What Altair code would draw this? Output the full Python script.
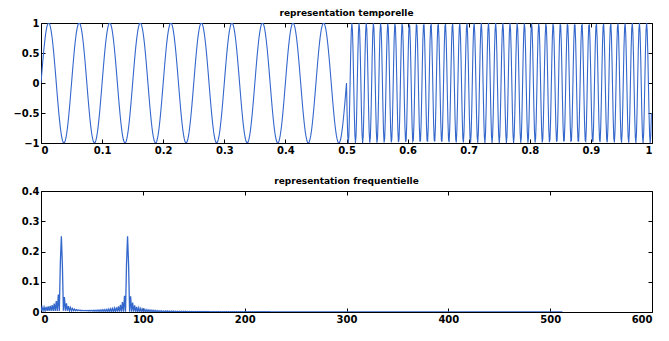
import numpy as np
import pandas as pd
import altair as alt

# values
n_samples = 1024            # samples over one second (spectrum ends near 512)
seg_bounds = [0.0, 0.5, 1.0]  # time segments
seg_freqs = [20, 85]        # Hz of each segment (peaks at ~20 and ~85)
seg_amps = [1.0, 1.0]

top_x_ticks = [0, 0.1, 0.2, 0.3, 0.4, 0.5, 0.6, 0.7, 0.8, 0.9, 1]
top_y_ticks = [-1, -0.5, 0, 0.5, 1]
bot_x_ticks = [0, 100, 200, 300, 400, 500, 600]
bot_y_ticks = [0, 0.1, 0.2, 0.3, 0.4]

t = np.arange(n_samples) / n_samples
sig = np.zeros(n_samples)
for i, f in enumerate(seg_freqs):
    m = (t >= seg_bounds[i]) & (t < seg_bounds[i + 1])
    sig[m] = seg_amps[i] * np.sin(2 * np.pi * f * t[m])
spec = np.abs(np.fft.fft(sig)) / n_samples
half = n_samples // 2 + 1
freq = np.arange(half) * (n_samples / n_samples)

df_t = pd.DataFrame({"t": t, "s": sig})
df_f = pd.DataFrame({"f": freq, "a": spec[:half]})
df_ghost = pd.DataFrame({"gx": [0.0], "gy": [0.0]})

BLUE = "#3467cc"
FONT = "DejaVu Sans"


def main_axis(values, orient, fmt, extent=None):
    kw = dict(values=values, orient=orient, title=None, grid=False, domain=False,
              ticks=True, tickSize=4, offset=-4, tickColor="black", labelPadding=2,
              format=fmt,
              labelFont=FONT, labelFontWeight="bold", labelFontSize=10, labelColor="black")
    if extent is not None:
        kw["minExtent"] = extent
        kw["maxExtent"] = extent
    return alt.Axis(**kw)


def ghost_axis(values, orient):
    return alt.Axis(values=values, orient=orient, title=None, grid=False, domain=False,
                    labels=False, ticks=True, tickSize=4, offset=-4, tickColor="black",
                    minExtent=0, maxExtent=0)


def panel(df, xf, yf, xdom, ydom, xt, yt, xfmt, yfmt, title, h, sw):
    xs = alt.Scale(domain=xdom, nice=False, zero=False)
    ys = alt.Scale(domain=ydom, nice=False, zero=False)
    line = alt.Chart(df).mark_line(color=BLUE, strokeWidth=sw, clip=True).encode(
        x=alt.X(f"{xf}:Q", scale=xs, axis=main_axis(xt, "bottom", xfmt, extent=14)),
        y=alt.Y(f"{yf}:Q", scale=ys, axis=main_axis(yt, "left", yfmt, extent=36)),
    )
    ghost = alt.Chart(df_ghost).mark_point(opacity=0).encode(
        x=alt.X("gx:Q", scale=xs, axis=ghost_axis(xt, "top")),
        y=alt.Y("gy:Q", scale=ys, axis=ghost_axis(yt, "right")),
    )
    return alt.layer(line, ghost).resolve_axis(x="independent", y="independent").properties(
        width=611, height=h,
        title=alt.TitleParams(title, font=FONT, fontSize=9, fontWeight="bold",
                              color="black", offset=0, anchor="middle"),
    )


top = panel(df_t, "t", "s", [0, 1], [-1, 1], top_x_ticks, top_y_ticks, "~g", "~g",
            "representation temporelle", 120, 1.1)
bottom = panel(df_f, "f", "a", [0, 600], [0, 0.4], bot_x_ticks, bot_y_ticks, "d", "~g",
               "representation frequentielle", 121, 1.3)

chart = alt.vconcat(top, bottom, spacing=20).properties(
    padding={"left": 0, "top": 0, "right": 5, "bottom": 2},
    background="white",
).configure_view(stroke="black", strokeWidth=1)

chart.save("out.html", embed_options={"renderer": "svg", "actions": False})
